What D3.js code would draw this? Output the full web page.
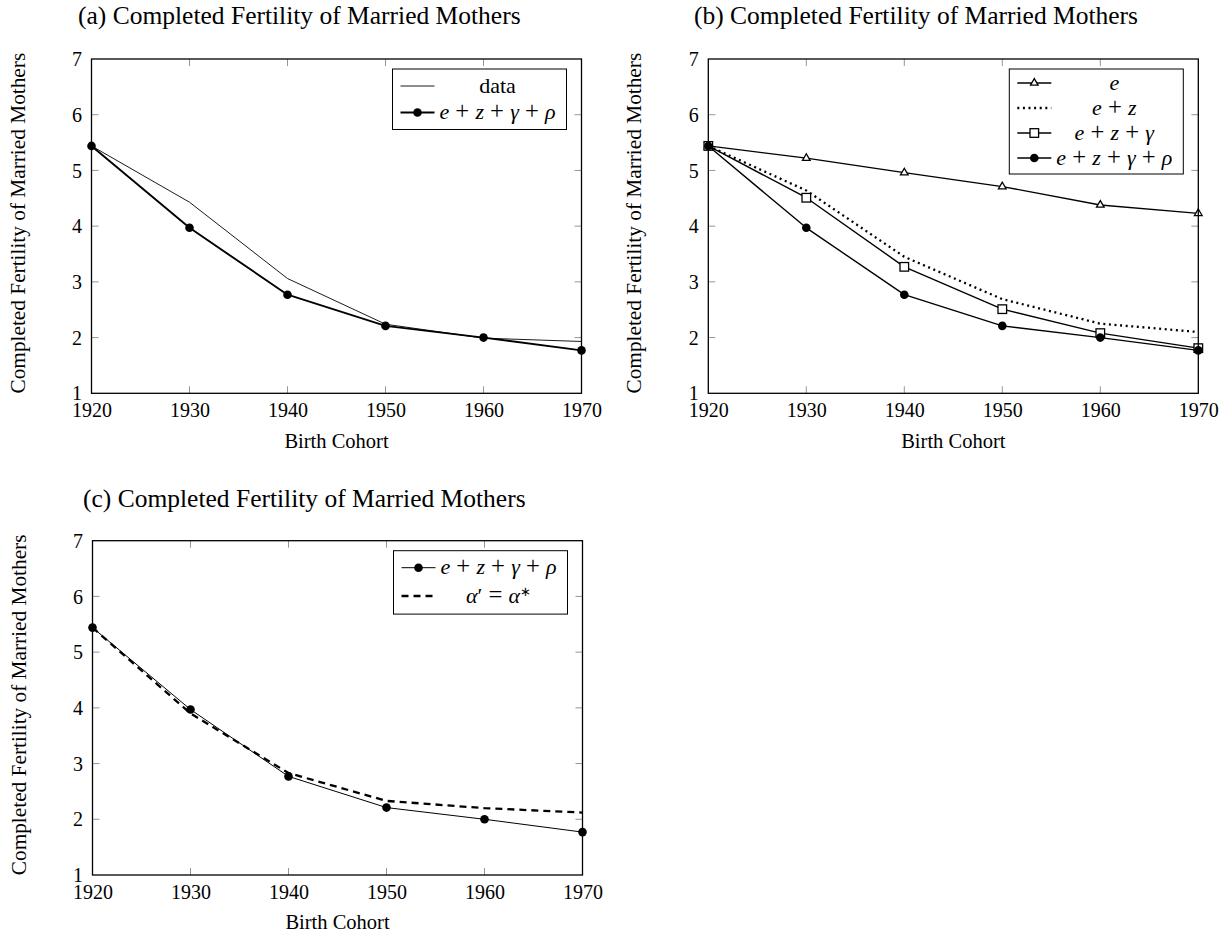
<!DOCTYPE html>
<html>
<head>
<meta charset="utf-8">
<script src="https://cdn.jsdelivr.net/npm/d3@7"></script>
<style>
  html, body { margin: 0; padding: 0; background: #fff; }
  svg { display: block; }
  text { font-family: "Liberation Serif", "Times New Roman", serif; fill: #000; }
</style>
</head>
<body>
<svg id="chart" width="1230" height="936"></svg>
<script>
// ---------------- data ----------------
const years = [1920, 1930, 1940, 1950, 1960, 1970];
const yTicks = [1, 2, 3, 4, 5, 6, 7];
const titleText = "Completed Fertility of Married Mothers";
const xLabelText = "Birth Cohort";
const yLabelText = "Completed Fertility of Married Mothers";

const dataSeries = [5.44, 4.43, 3.06, 2.24, 1.99, 1.93];   // data
const modelEZGR  = [5.44, 3.97, 2.77, 2.21, 2.00, 1.77];   // e+z+γ+ρ
const modelE     = [5.44, 5.22, 4.96, 4.71, 4.38, 4.23];   // e
const modelEZ    = [5.44, 4.64, 3.45, 2.69, 2.25, 2.10];   // e+z
const modelEZG   = [5.44, 4.51, 3.27, 2.51, 2.08, 1.81];   // e+z+γ
const modelAlpha = [5.44, 3.90, 2.83, 2.33, 2.20, 2.12];   // α′ = α*

// ---------------- helpers ----------------
const svg = d3.select("#chart");
const W = 490, H = 334.3;

function mathLabel(sel, parts) {
  parts.forEach(p => {
    const t = sel.append("tspan").text(p.t);
    if (p.i) t.attr("font-style", "italic");
    if (p.op) t.attr("font-size", "1.12em");
    if (p.sup) t.attr("baseline-shift", "super").attr("font-size", "0.6em");
  });
}
const L_EZGR = [{t:"e",i:1},{t:" + ",op:1},{t:"z",i:1},{t:" + ",op:1},{t:"γ",i:1},{t:" + ",op:1},{t:"ρ",i:1}];
const L_EZG  = [{t:"e",i:1},{t:" + ",op:1},{t:"z",i:1},{t:" + ",op:1},{t:"γ",i:1}];
const L_EZ   = [{t:"e",i:1},{t:" + ",op:1},{t:"z",i:1}];
const L_E    = [{t:"e",i:1}];
const L_DATA = [{t:"data"}];
const L_ALPHA= [{t:"α",i:1},{t:"′"},{t:" = ",op:1},{t:"α",i:1},{t:"∗",sup:1}];

function drawMarker(g, type, cx, cy) {
  if (type === "circle") {
    g.append("circle").attr("cx", cx).attr("cy", cy).attr("r", 4.3).attr("fill", "#000");
  } else if (type === "square") {
    const s = 8.6;
    g.append("rect").attr("x", cx - s/2).attr("y", cy - s/2).attr("width", s).attr("height", s)
      .attr("fill", "#fff").attr("stroke", "#000").attr("stroke-width", 1.3);
  } else if (type === "triangle") {
    const r = 4.4;
    const pts = [[cx, cy - r], [cx - r*0.866, cy + r*0.5], [cx + r*0.866, cy + r*0.5]];
    g.append("path").attr("d", d3.line()(pts) + "Z")
      .attr("fill", "#fff").attr("stroke", "#000").attr("stroke-width", 1.3);
  }
}

function drawPanel(cfg) {
  const g = svg.append("g").attr("transform", `translate(${cfg.left},${cfg.top})`);
  const x = d3.scaleLinear().domain([1920, 1970]).range([0, W]);
  const y = d3.scaleLinear().domain([1, 7]).range([H, 0]);

  // title
  svg.append("text").attr("x", cfg.titleX).attr("y", cfg.titleY)
    .attr("font-size", "25.5px").text(`(${cfg.letter}) ${titleText}`);

  // inward ticks on all four sides
  const tk = 7;
  const tg = g.append("g").attr("stroke", "#8a8a8a").attr("stroke-width", 0.9);
  years.slice(1, -1).forEach(v => {
    tg.append("line").attr("x1", x(v)).attr("x2", x(v)).attr("y1", H).attr("y2", H - tk);
    tg.append("line").attr("x1", x(v)).attr("x2", x(v)).attr("y1", 0).attr("y2", tk);
  });
  yTicks.slice(1, -1).forEach(v => {
    tg.append("line").attr("y1", y(v)).attr("y2", y(v)).attr("x1", 0).attr("x2", tk);
    tg.append("line").attr("y1", y(v)).attr("y2", y(v)).attr("x1", W).attr("x2", W - tk);
  });

  // tick labels via d3 axes (domain/tick lines hidden)
  const xAxis = g.append("g").attr("transform", `translate(0,${H})`)
    .call(d3.axisBottom(x).tickValues(years).tickFormat(d3.format("d")).tickSize(0).tickPadding(0));
  xAxis.select(".domain").remove();
  xAxis.selectAll("text").attr("font-size", "20px").attr("font-family", "Liberation Serif")
    .attr("dy", null).attr("y", 24);

  const yAxis = g.append("g")
    .call(d3.axisLeft(y).tickValues(yTicks).tickFormat(d3.format("d")).tickSize(0).tickPadding(9.5));
  yAxis.select(".domain").remove();
  yAxis.selectAll("text").attr("font-size", "20px").attr("font-family", "Liberation Serif")
    .attr("dy", "0.33em");

  // axis labels
  g.append("text").attr("x", W/2).attr("y", H + 54.4).attr("text-anchor", "middle")
    .attr("font-size", "20.5px").text(xLabelText);
  g.append("text").attr("transform", `translate(-67,${H/2 - 3}) rotate(-90)`)
    .attr("text-anchor", "middle").attr("font-size", "21.3px").text(yLabelText);

  // series
  const line = d3.line().x((d, i) => x(years[i])).y(d => y(d));
  cfg.series.forEach(s => {
    g.append("path").datum(s.values).attr("d", line).attr("fill", "none")
      .attr("stroke", "#000").attr("stroke-width", s.width)
      .attr("stroke-dasharray", s.dash || null)
      .attr("stroke-linejoin", "round");
    if (s.marker) s.values.forEach((v, i) => drawMarker(g, s.marker, x(years[i]), y(v)));
  });

  // frame
  g.append("rect").attr("width", W).attr("height", H).attr("fill", "none")
    .attr("stroke", "#000").attr("stroke-width", 1.3);

  // legend
  const lg = g.append("g").attr("transform", `translate(${W - 15 - 174},10)`);
  lg.append("rect").attr("width", 174).attr("height", cfg.legendH)
    .attr("fill", "#fff").attr("stroke", "#000").attr("stroke-width", 1);
  cfg.series.forEach((s, i) => {
    const cy = cfg.legendRows[i];
    lg.append("line").attr("x1", 8).attr("x2", 42).attr("y1", cy).attr("y2", cy)
      .attr("stroke", "#000").attr("stroke-width", s.width).attr("stroke-dasharray", s.dash || null);
    if (s.marker) drawMarker(lg, s.marker, 25, cy);
    const t = lg.append("text").attr("x", 105).attr("y", cy).attr("dy", "0.3em")
      .attr("text-anchor", "middle").attr("font-size", "22px");
    mathLabel(t, s.label);
  });
}

// ---------------- panels ----------------
drawPanel({
  letter: "a", left: 91.5, top: 59, titleX: 78, titleY: 24,
  legendH: 60.5, legendRows: [17, 43.5],
  series: [
    { values: dataSeries, width: 0.9, label: L_DATA },
    { values: modelEZGR, width: 1.9, marker: "circle", label: L_EZGR }
  ]
});

drawPanel({
  letter: "b", left: 708.3, top: 59, titleX: 694, titleY: 24,
  legendH: 105, legendRows: [14, 39, 64, 89],
  series: [
    { values: modelE, width: 1.4, marker: "triangle", label: L_E },
    { values: modelEZ, width: 2.3, dash: "2,3.6", label: L_EZ },
    { values: modelEZG, width: 1.4, marker: "square", label: L_EZG },
    { values: modelEZGR, width: 1.4, marker: "circle", label: L_EZGR }
  ]
});

drawPanel({
  letter: "c", left: 92.5, top: 540.7, titleX: 83, titleY: 506.7,
  legendH: 63.4, legendRows: [17, 45.3],
  series: [
    { values: modelEZGR, width: 1.0, marker: "circle", label: L_EZGR },
    { values: modelAlpha, width: 2.3, dash: "7,5", label: L_ALPHA }
  ]
});
</script>
</body>
</html>
